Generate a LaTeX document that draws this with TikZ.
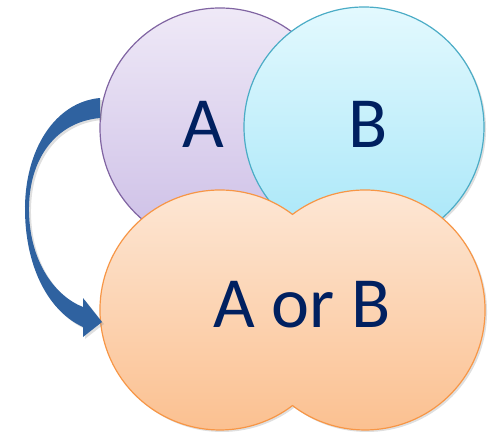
\documentclass[tikz,border=0pt]{standalone}
\usepackage{fontspec}
\setmainfont{Carlito}
\usepackage{tikz}
\usetikzlibrary{shadows}
\definecolor{dnavy}{RGB}{0,32,96}
\definecolor{arrowblue}{RGB}{47,98,160}
\tikzstyle{shade}=[drop shadow={shadow xshift=2pt,shadow yshift=-2pt,opacity=.25}]
\tikzstyle{setcircle}=[circle,minimum size=240pt,inner sep=0pt,line width=1.2pt,shade]
\tikzstyle{setA}=[setcircle,draw={rgb,255:red,128;green,100;blue,162},top color={rgb,255:red,239;green,233;blue,247},bottom color={rgb,255:red,204;green,190;blue,230}]
\tikzstyle{setB}=[setcircle,draw={rgb,255:red,75;green,172;blue,198},top color={rgb,255:red,227;green,249;blue,254},bottom color={rgb,255:red,166;green,230;blue,248}]
\tikzstyle{setAB}=[line width=1.2pt,shade,draw={rgb,255:red,247;green,150;blue,70},top color={rgb,255:red,253;green,233;blue,217},bottom color={rgb,255:red,251;green,190;blue,140}]
\tikzstyle{setname}=[text=dnavy,inner sep=0pt,font=\fontsize{72}{80}\selectfont]

\begin{document}
\begin{tikzpicture}[x=1pt,y=-1pt]
	\useasboundingbox (0,0) rectangle (494,433);
	\node[setA] (A) at (220,128) {};
	\node[setB] (B) at (364,127) {};
	% union of the two lobes, one closed outline
	\path[setAB] (292.5,214.4) arc[start angle=-52.8,end angle=-307.2,radius=120]
		arc[start angle=127.2,end angle=-127.2,radius=120] -- cycle;
	\node[setname] (nA)  at (203,124) {A};
	\node[setname] (nB)  at (368,124) {B};
	\node[setname] (nAB) at (302,305) {A or B};
	% curved block arrow from A down to the union
	\coordinate (top)  at (100,98);
	\coordinate (bot)  at (100,118);
	\coordinate (tip)  at (102,322);
	\fill[arrowblue,shade] (top) .. controls (55,102) and (24,150) .. (25,212)
		.. controls (26,270) and (50,312) .. (83,327)
		-- (83,337) -- (tip) -- (83,298) -- (83,307)
		.. controls (55,296) and (30,262) .. (29,212)
		.. controls (28,160) and (55,122) .. (bot) -- cycle;
\end{tikzpicture}
\end{document}
